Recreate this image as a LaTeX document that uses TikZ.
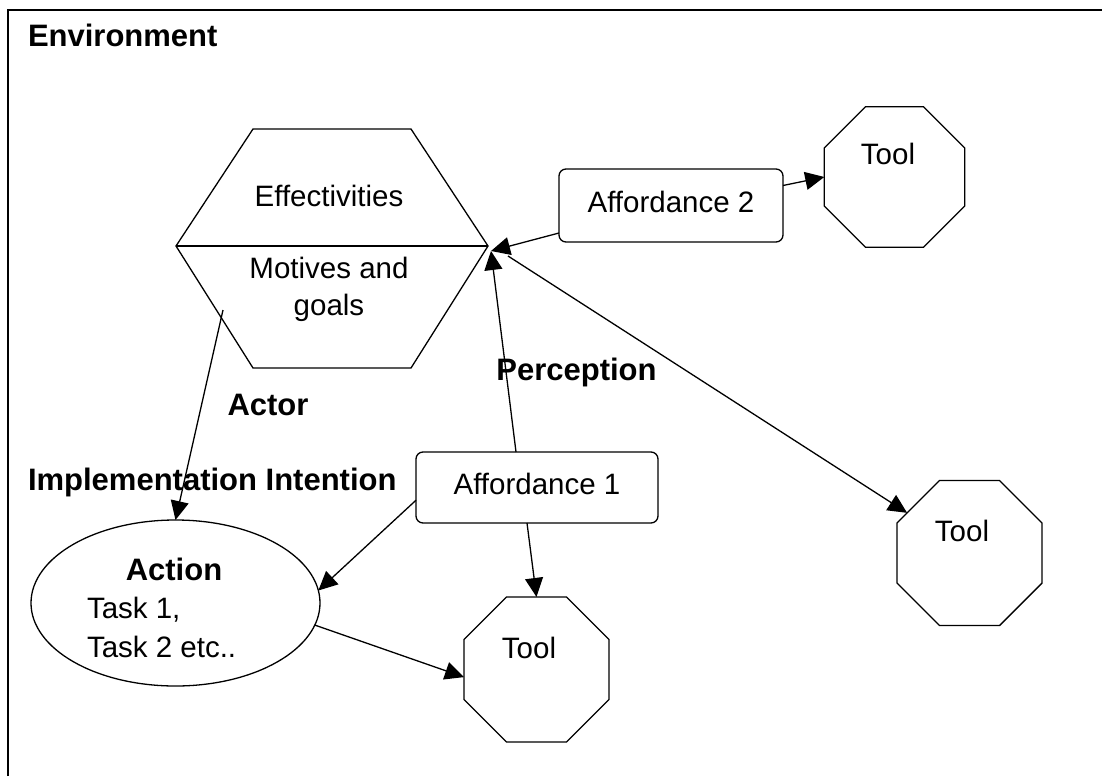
\documentclass[tikz,border=0pt]{standalone}
\usepackage{fontspec}
\setmainfont{Liberation Sans}
\usetikzlibrary{arrows.meta,shapes.geometric}
\begin{document}
\begin{tikzpicture}[x=1pt,y=-1pt,
  every node/.style={inner sep=0pt,outer sep=0pt},
  ln/.style={line width=1.3pt},
  arr/.style={line width=1.3pt,-{Triangle[length=19pt,width=18pt]}},
  txt/.style={font=\fontsize{29.5}{34}\selectfont},
  btxt/.style={font=\fontsize{31}{36}\selectfont\bfseries},
  affbox/.style={draw,line width=1.3pt,rounded corners=7pt,font=\fontsize{29.5}{34}\selectfont,text height=22pt,text depth=8pt},
  toolshape/.style={draw,line width=1.3pt,regular polygon,regular polygon sides=8},
  ]
\useasboundingbox (0,0) rectangle (1102,776);
\fill[white] (0,0) rectangle (1102,776);

% environment frame
\draw[ln] (8,776) -- (8,10) -- (1102,10);
\node[btxt,anchor=base west] (env) at (28,47) {Environment};

% actor hexagon
\coordinate (h1) at (253,129);
\coordinate (h2) at (411,129);
\coordinate (h3) at (488,246);
\coordinate (h4) at (411,368);
\coordinate (h5) at (253,368);
\coordinate (h6) at (176,246);
\draw[ln] (h1) -- (h2) -- (h3) -- (h4) -- (h5) -- (h6) -- cycle;
\draw[ln] (h6) -- (h3);
\node[txt,anchor=base] (eff) at (329,206) {Effectivities};
\node[txt,anchor=base] (mot) at (329,278) {Motives and};
\node[txt,anchor=base] (goa) at (329,315) {goals};
\node[btxt,anchor=base] (actor) at (268,415) {Actor};

% affordances
\node[affbox,minimum width=224pt,minimum height=73pt] (aff2) at (671,205.5) {Affordance 2};
\node[affbox,minimum width=242pt,minimum height=71pt] (aff1) at (537,487.5) {Affordance 1};

% tools
\node[toolshape,minimum size=152pt] (ttr) at (894.5,177) {};
\node[txt,anchor=base] (ttrl) at (888,164) {Tool};
\node[toolshape,minimum size=157pt] (tbr) at (969.5,553) {};
\node[txt,anchor=base] (tbrl) at (962,541) {Tool};
\node[toolshape,minimum size=157pt] (tm) at (536.5,669.5) {};
\node[txt,anchor=base] (tml) at (529,658) {Tool};

% action ellipse
\node[draw,line width=1.3pt,ellipse,minimum width=289pt,minimum height=166pt] (ell) at (175.5,603) {};
\node[btxt,anchor=base] (act) at (174,580) {Action};
\node[txt,anchor=base west] (t1) at (87,618) {Task 1,};
\node[txt,anchor=base west] (t2) at (87,657) {Task 2 etc..};

% labels
\node[btxt,anchor=base] (perc) at (576.5,380) {Perception};
\node[btxt,anchor=base west] (impl) at (28,490) {Implementation Intention};

% connectors
\coordinate (hub) at (491,251);
\coordinate (hubout) at (508,256);
\coordinate (mg) at (223,310);
\draw[arr] ([yshift=-27.5pt]aff2.west) -- (hub);
\draw[arr] ([xshift=-21pt]aff1.north) -- (hub);
\draw[arr] (hubout) -- (tbr);
\draw[arr] ([yshift=20pt]aff2.east) -- (ttr.west);
\draw[arr] (mg) -- (ell.north);
\draw[arr] (aff1.-174) -- (ell.5);
\draw[arr] ([xshift=-10pt]aff1.south) -- (tm.north);
\draw[arr] (ell.-9) -- (tm.-174);
\end{tikzpicture}
\end{document}
